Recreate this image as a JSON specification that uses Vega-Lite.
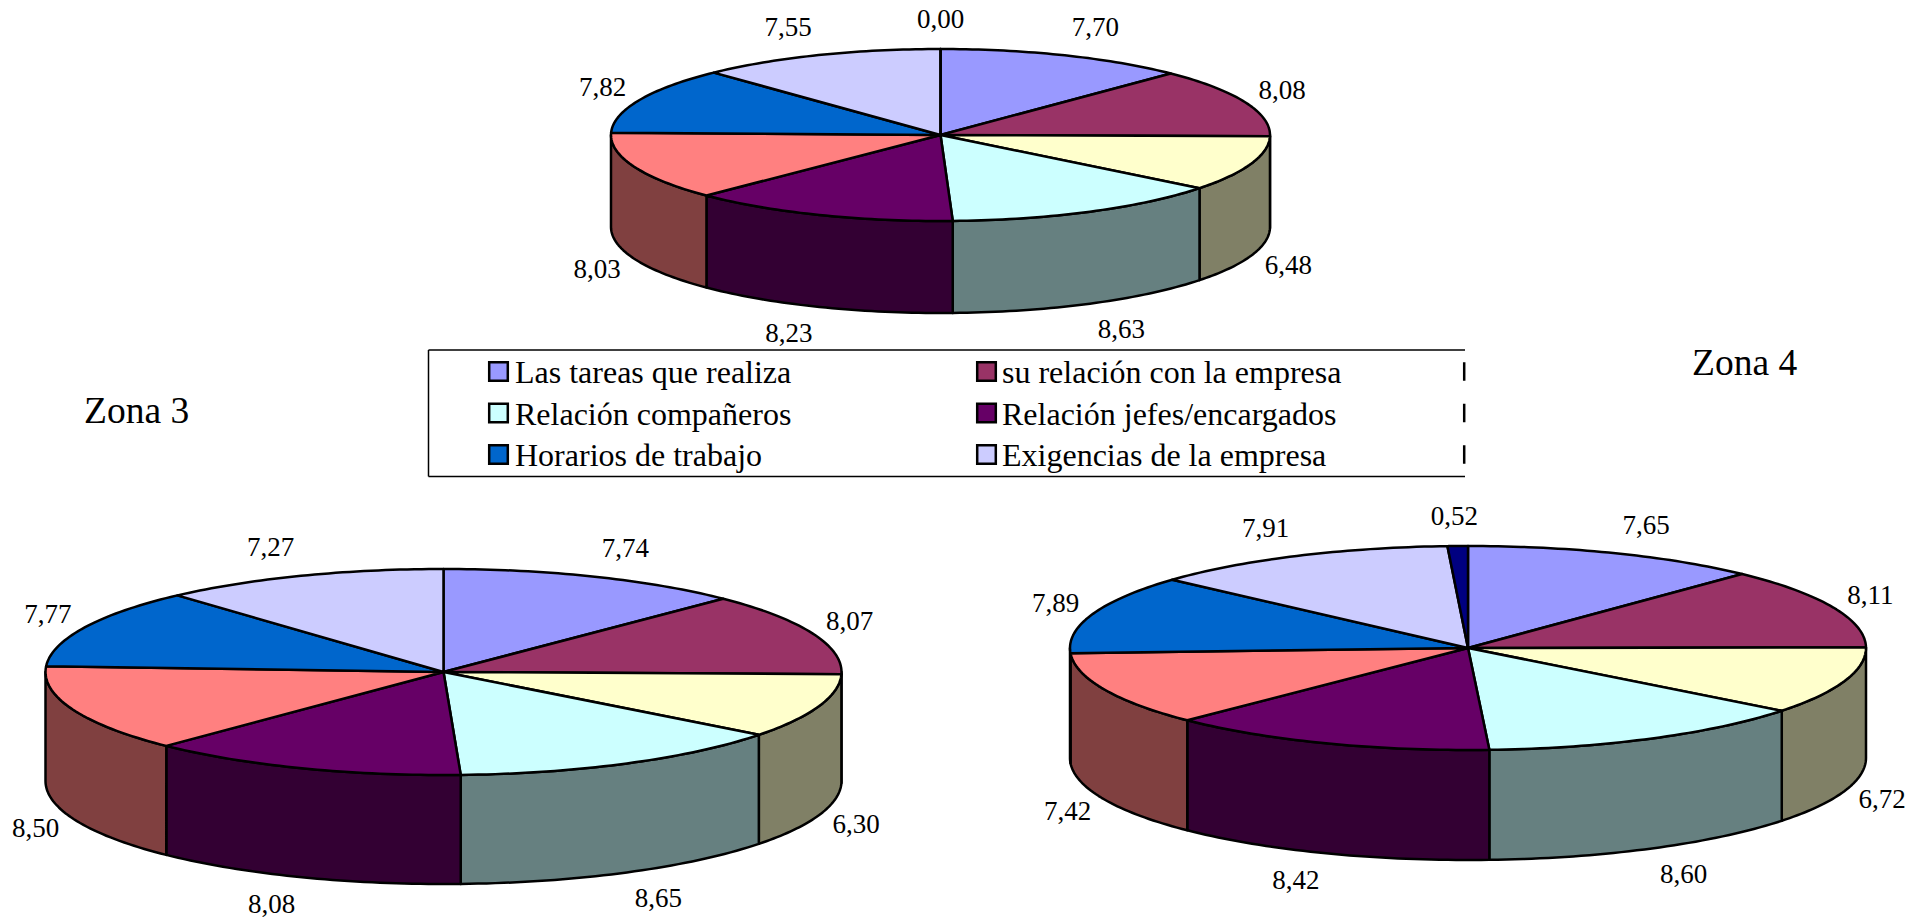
{
  "$schema": "https://vega.github.io/schema/vega-lite/v6.json",
  "width": 1924,
  "height": 920,
  "autosize": {"type": "fit", "contains": "padding"},
  "padding": 0,
  "background": "white",
  "config": {"view": {"stroke": null}, "axis": {"disable": true}},
  "datasets": {
    "slices": [
      {"zone": "Arriba", "idx": 0, "value": 7.70},
      {"zone": "Arriba", "idx": 1, "value": 8.08},
      {"zone": "Arriba", "idx": 2, "value": 6.48},
      {"zone": "Arriba", "idx": 3, "value": 8.63},
      {"zone": "Arriba", "idx": 4, "value": 8.23},
      {"zone": "Arriba", "idx": 5, "value": 8.03},
      {"zone": "Arriba", "idx": 6, "value": 7.82},
      {"zone": "Arriba", "idx": 7, "value": 7.55},
      {"zone": "Arriba", "idx": 8, "value": 0.00},
      {"zone": "Zona 3", "idx": 0, "value": 7.74},
      {"zone": "Zona 3", "idx": 1, "value": 8.07},
      {"zone": "Zona 3", "idx": 2, "value": 6.30},
      {"zone": "Zona 3", "idx": 3, "value": 8.65},
      {"zone": "Zona 3", "idx": 4, "value": 8.08},
      {"zone": "Zona 3", "idx": 5, "value": 8.50},
      {"zone": "Zona 3", "idx": 6, "value": 7.77},
      {"zone": "Zona 3", "idx": 7, "value": 7.27},
      {"zone": "Zona 4", "idx": 0, "value": 7.65},
      {"zone": "Zona 4", "idx": 1, "value": 8.11},
      {"zone": "Zona 4", "idx": 2, "value": 6.72},
      {"zone": "Zona 4", "idx": 3, "value": 8.60},
      {"zone": "Zona 4", "idx": 4, "value": 8.42},
      {"zone": "Zona 4", "idx": 5, "value": 7.42},
      {"zone": "Zona 4", "idx": 6, "value": 7.89},
      {"zone": "Zona 4", "idx": 7, "value": 7.91},
      {"zone": "Zona 4", "idx": 8, "value": 0.52}
    ],
    "series": [
      {"idx": 0, "name": "Las tareas que realiza"},
      {"idx": 1, "name": "su relación con la empresa"},
      {"idx": 2, "name": ""},
      {"idx": 3, "name": "Relación compañeros"},
      {"idx": 4, "name": "Relación jefes/encargados"},
      {"idx": 5, "name": ""},
      {"idx": 6, "name": "Horarios de trabajo"},
      {"idx": 7, "name": "Exigencias de la empresa"},
      {"idx": 8, "name": ""}
    ]
  },
  "data": {"name": "slices"},
  "transform": [
    {"window": [{"op": "sum", "field": "value", "as": "cum"}], "groupby": ["zone"], "sort": [{"field": "idx", "order": "ascending"}]},
    {"joinaggregate": [{"op": "sum", "field": "value", "as": "total"}], "groupby": ["zone"]},
    {"calculate": "datum.zone === 'Arriba' ? 940.5 : datum.zone === 'Zona 3' ? 443.5 : 1468", "as": "cx"},
    {"calculate": "datum.zone === 'Arriba' ? 135 : datum.zone === 'Zona 3' ? 672 : 648", "as": "cy"},
    {"calculate": "datum.zone === 'Arriba' ? 329.5 : 398", "as": "ra"},
    {"calculate": "datum.zone === 'Arriba' ? 86 : datum.zone === 'Zona 3' ? 103 : 102", "as": "rb"},
    {"calculate": "datum.zone === 'Arriba' ? 92 : datum.zone === 'Zona 3' ? 109 : 110", "as": "depth"},
    {"calculate": "2 * PI * (datum.cum - datum.value) / datum.total", "as": "t0"},
    {"calculate": "2 * PI * datum.cum / datum.total", "as": "t1"}
  ],
  "encoding": {
    "x": {"field": "px", "type": "quantitative", "scale": {"domain": [0, 1924], "nice": false, "zero": false}, "axis": null},
    "y": {"field": "py", "type": "quantitative", "scale": {"domain": [920, 0], "nice": false, "zero": false}, "axis": null},
    "fill": {
      "field": "key",
      "type": "nominal",
      "legend": null,
      "scale": {
        "domain": ["0", "1", "2", "3", "4", "5", "6", "7", "8", "r0", "r1", "r2", "r3", "r4", "r5", "r6", "r7", "r8"],
        "range": ["#9999FF", "#993366", "#FFFFCC", "#CCFFFF", "#660066", "#FF8080", "#0066CC", "#CCCCFF", "#000080", "#4D4D80", "#4D1A33", "#808066", "#668080", "#330033", "#804040", "#003366", "#666680", "#000040"]
      }
    }
  },
  "layer": [
    {
      "description": "Outer wall of each pie: only the front half of the rim is visible",
      "transform": [
        {"calculate": "max(datum.t0, PI / 2)", "as": "r0"},
        {"calculate": "min(datum.t1, 3 * PI / 2)", "as": "r1"},
        {"filter": "datum.r1 > datum.r0"},
        {"calculate": "[0,1,2,3,4,5,6,7,8,9,10,11,12,13,14,15,16,17,18,19,20,21,22,23,24,25,26,27,28,29,30,31,32,33,34,35,36,37,38,39,40,41,42,43,44,45,46,47,48,49,50,51,52,53,54,55,56,57,58,59,60,61,62,63,64,65,66,67,68,69,70,71,72,73,74,75,76,77,78,79,80,81]", "as": "steps"},
        {"flatten": ["steps"], "as": ["i"]},
        {"calculate": "datum.i <= 40 ? datum.i / 40 : (81 - datum.i) / 40", "as": "f"},
        {"calculate": "datum.r0 + (datum.r1 - datum.r0) * datum.f", "as": "t"},
        {"calculate": "datum.cx + datum.ra * sin(datum.t)", "as": "px"},
        {"calculate": "datum.cy - datum.rb * cos(datum.t) + (datum.i > 40 ? datum.depth : 0)", "as": "py"},
        {"calculate": "'r' + datum.idx", "as": "key"}
      ],
      "mark": {"type": "line", "interpolate": "linear-closed", "stroke": "black", "strokeWidth": 2.5, "strokeJoin": "round"},
      "encoding": {
        "detail": [{"field": "zone"}, {"field": "idx"}],
        "order": {"field": "i", "type": "quantitative"}
      }
    },
    {
      "description": "Top face: one wedge per answer, sweeping clockwise from twelve o'clock",
      "transform": [
        {"calculate": "[0,1,2,3,4,5,6,7,8,9,10,11,12,13,14,15,16,17,18,19,20,21,22,23,24,25,26,27,28,29,30,31,32,33,34,35,36,37,38,39,40,41]", "as": "steps"},
        {"flatten": ["steps"], "as": ["i"]},
        {"calculate": "datum.t0 + (datum.t1 - datum.t0) * (datum.i - 1) / 40", "as": "t"},
        {"calculate": "datum.i === 0 ? datum.cx : datum.cx + datum.ra * sin(datum.t)", "as": "px"},
        {"calculate": "datum.i === 0 ? datum.cy : datum.cy - datum.rb * cos(datum.t)", "as": "py"},
        {"calculate": "'' + datum.idx", "as": "key"}
      ],
      "mark": {"type": "line", "interpolate": "linear-closed", "stroke": "black", "strokeWidth": 2.5, "strokeJoin": "round"},
      "encoding": {
        "detail": [{"field": "zone"}, {"field": "idx"}],
        "order": {"field": "i", "type": "quantitative"}
      }
    },
    {
      "description": "Value labels just outside each wedge, below the wall on the front half",
      "transform": [
        {"calculate": "(datum.t0 + datum.t1) / 2", "as": "mid"},
        {"calculate": "datum.cx + datum.ra * sin(datum.mid) + (26 + 12 * abs(sin(datum.mid))) * clamp(sin(datum.mid) * 5, -1, 1)", "as": "px"},
        {"calculate": "datum.cy - (datum.rb + 29.5) * cos(datum.mid) + (cos(datum.mid) < 0 ? datum.depth : 0)", "as": "py"},
        {"calculate": "replace(format(datum.value, '.2f'), '.', ',')", "as": "label"}
      ],
      "mark": {"type": "text", "font": "Liberation Serif", "fontSize": 27, "align": "center", "baseline": "middle"},
      "encoding": {
        "text": {"field": "label", "type": "nominal"},
        "fill": {"value": "black"}
      }
    },
    {
      "description": "Zone captions",
      "data": {"values": [{"zone": "Zona 3"}, {"zone": "Zona 4"}]},
      "transform": [
        {"calculate": "datum.zone === 'Zona 3' ? 84 : 1692", "as": "px"},
        {"calculate": "datum.zone === 'Zona 3' ? 412 : 364", "as": "py"}
      ],
      "mark": {"type": "text", "font": "Liberation Serif", "fontSize": 37.5, "align": "left", "baseline": "middle"},
      "encoding": {
        "text": {"field": "zone", "type": "nominal"},
        "fill": {"value": "black"}
      }
    },
    {
      "description": "Legend frame, open on the right",
      "data": {"values": [{"edge": "top", "px": 428.5, "px2": 1465, "py": 350}, {"edge": "bottom", "px": 428.5, "px2": 1465, "py": 476.5}]},
      "mark": {"type": "rule", "stroke": "black", "strokeWidth": 1.5},
      "encoding": {
        "x2": {"field": "px2"},
        "fill": {"value": "black"}
      }
    },
    {
      "data": {"values": [{"px": 428.5, "py": 350, "py2": 476.5}]},
      "mark": {"type": "rule", "stroke": "black", "strokeWidth": 1.5},
      "encoding": {
        "y2": {"field": "py2"},
        "fill": {"value": "black"}
      }
    },
    {
      "description": "Legend swatches in three columns, the last one cut off by the legend's right edge",
      "data": {"name": "series"},
      "transform": [
        {"calculate": "datum.idx % 3", "as": "col"},
        {"calculate": "floor(datum.idx / 3)", "as": "row"},
        {"calculate": "min(489.2 + 488 * datum.col, 1464.2)", "as": "px"},
        {"calculate": "min(datum.px + 18.6, 1464.2)", "as": "px2"},
        {"calculate": "362.2 + 41.5 * datum.row", "as": "py"},
        {"calculate": "datum.py + 18.6", "as": "py2"},
        {"calculate": "'' + datum.idx", "as": "key"}
      ],
      "mark": {"type": "rect", "stroke": "black", "strokeWidth": 2.5},
      "encoding": {
        "x2": {"field": "px2"},
        "y2": {"field": "py2"}
      }
    },
    {
      "data": {"name": "series"},
      "transform": [
        {"filter": "datum.name !== ''"},
        {"calculate": "datum.idx % 3", "as": "col"},
        {"calculate": "floor(datum.idx / 3)", "as": "row"},
        {"calculate": "515 + 487 * datum.col", "as": "px"},
        {"calculate": "373 + 41.5 * datum.row", "as": "py"}
      ],
      "mark": {"type": "text", "font": "Liberation Serif", "fontSize": 32, "align": "left", "baseline": "middle"},
      "encoding": {
        "text": {"field": "name", "type": "nominal"},
        "fill": {"value": "black"}
      }
    }
  ]
}
